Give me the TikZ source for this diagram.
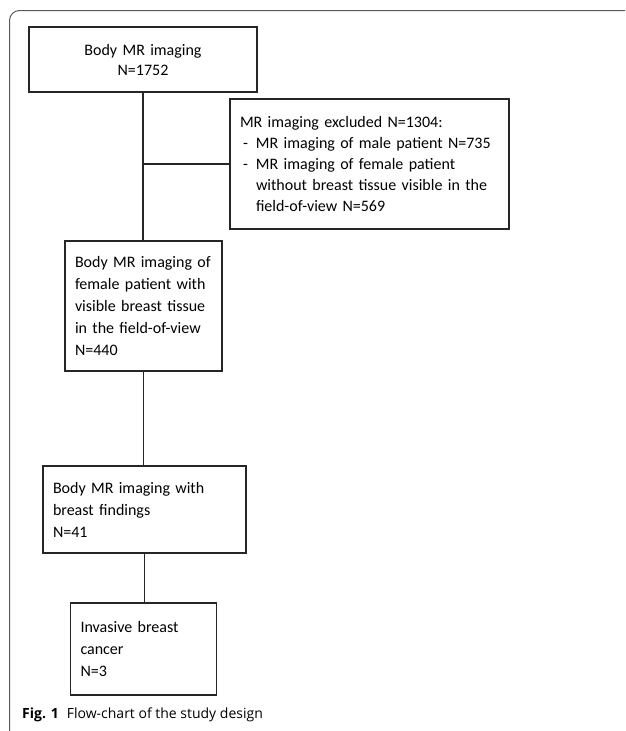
\documentclass[tikz,border=0pt]{standalone}
\usepackage{fontspec}
\setmainfont{Carlito}
\newfontfamily\capfont{Open Sans}
\tikzset{
  kasten/.style={draw=black!85, line width=1.3pt, inner sep=0pt, inner xsep=10pt,
    align=left, font=\fontsize{16}{22}\selectfont},
  linie/.style={draw=black!85, line width=1.3pt},
}
\begin{document}
\begin{tikzpicture}[x=1pt,y=-1pt]
  \useasboundingbox (0,0) rectangle (625,731);
  % Rahmen
  \draw[black!65, line width=1pt, rounded corners=10pt] (9.5,731) -- (9.5,10.5) -- (625,10.5);
  % Kaesten
  \node[kasten, minimum width=228pt, minimum height=65pt, text width=208pt, align=center,
    font=\fontsize{16}{20}\selectfont] (gesamt) at (143,59.5) {Body MR imaging\\N=1752};
  \node[kasten, minimum width=279pt, minimum height=130pt, text width=259pt,
    font=\fontsize{16}{21}\selectfont] (ausschluss) at (369.5,164)
    {MR imaging excluded N=1304:\\
     \makebox[16pt][l]{\hspace{3pt}-}MR imaging of male patient N=735\\
     \makebox[16pt][l]{\hspace{3pt}-}MR imaging of female patient\\
     \hspace*{16pt}without breast tissue visible in the\\
     \hspace*{16pt}field-of-view N=569};
  \node[kasten, minimum width=157pt, minimum height=130pt, text width=137pt] (weiblich) at (143.5,306)
    {Body MR imaging of\\female patient with\\visible breast tissue\\in the field-of-view\\N=440};
  \node[kasten, minimum width=203pt, minimum height=87pt, text width=183pt] (befund) at (144.5,509.5)
    {Body MR imaging with\\breast findings\\N=41};
  \node[kasten, minimum width=146pt, minimum height=92pt, text width=126pt] (krebs) at (143.5,649)
    {Invasive breast\\cancer\\N=3};
  % Verbindungen
  \draw[linie] (gesamt.south) -- (gesamt.south |- weiblich.north);
  \draw[linie] (gesamt.south |- ausschluss.west) -- (ausschluss.west);
  \draw[linie] (weiblich.south) -- (weiblich.south |- befund.north);
  \draw[linie] (befund.south) -- (befund.south |- krebs.north);
  % Bildunterschrift
  \node[anchor=west, inner sep=0pt, font=\capfont\fontsize{14}{17}\selectfont] (titel) at (22,715)
    {\textbf{Fig. 1}\hspace{8pt}Flow-chart of the study design};
\end{tikzpicture}
\end{document}
